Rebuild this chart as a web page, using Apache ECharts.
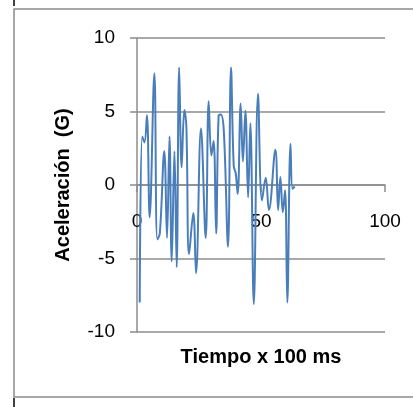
<!DOCTYPE html>
<html>
<head>
<meta charset="utf-8">
<script src="https://cdn.jsdelivr.net/npm/echarts@6/dist/echarts.min.js"></script>
<style>
html, body { margin: 0; padding: 0; background: #fff; }
#chart { width: 413px; height: 407px; }
</style>
</head>
<body>
<div id="chart"></div>
<script>
// datos (tiempo x 100 ms, aceleracion G)
var tiempo = [1.1, 2.1, 3.0, 4.0, 5.1, 7.0, 8.2, 9.2, 11.0, 12.1, 13.1, 14.0, 15.1, 16.0, 17.0, 18.0,
    19.1, 19.9, 21.0, 22.7, 23.8, 25.8, 27.7, 28.9, 30.0, 30.9, 31.9, 32.9, 33.8, 35.0, 36.7, 37.9,
    39.0, 39.8, 40.6, 41.8, 42.7, 43.7, 44.8, 45.7, 47.1, 48.8, 50.4, 51.9, 53.2, 55.8, 56.9, 57.8,
    58.8, 59.7, 60.6, 61.9, 62.7, 63.6];
var aceleracion = [-8.0, 3.3, 2.9, 4.75, -2.2, 7.6, -3.7, -3.3, 2.3, -3.6, 3.3, -5.2, 2.3, -5.6, 8.0, 1.2,
    5.1, 4.0, -4.7, -1.9, -6.0, 3.85, -3.6, 5.7, 2.0, 3.0, -3.3, 4.7, 4.8, 3.7, -4.2, 8.0,
    1.3, 0.8, -0.6, 5.55, 1.6, 5.05, -0.85, 4.2, -8.1, 6.2, -1.05, 0.5, -1.7, 2.4, -1.7, 0.55,
    -1.85, -0.36, -8.0, 2.8, -0.25, -0.1];
var xTicks = [0, 50, 100];
var yTicks = [-10, -5, 0, 5, 10];

var gris = '#8c8c8c';
var fuente = '"Liberation Sans", Arial, sans-serif';

var puntos = [];
for (var i = 0; i < tiempo.length; i++)
    puntos.push([tiempo[i], aceleracion[i]]);

// el eje x cruza en y=0, que es la mitad de la zona de trazado
var gridTop = 38, gridBottom = 75, alto = 407;
var cruce = -(alto - gridTop - gridBottom) / 2;

var option = {
    animation: false,
    backgroundColor: '#fff',
    grid: { left: 137, right: 28, top: gridTop, bottom: gridBottom, containLabel: false, outerBoundsMode: 'none' },
    xAxis: {
        type: 'value',
        min: xTicks[0],
        max: xTicks[xTicks.length - 1],
        interval: xTicks[1] - xTicks[0],
        offset: cruce,
        name: 'Tiempo x 100 ms',
        nameLocation: 'middle',
        nameGap: 162,
        nameTextStyle: { fontFamily: fuente, fontWeight: 'bold', fontSize: 20, color: '#000' },
        axisLine: { onZero: false, lineStyle: { color: gris, width: 1.5 } },
        axisTick: { show: true, inside: false, length: 7, lineStyle: { color: gris, width: 1.5 } },
        axisLabel: { margin: 27, fontFamily: fuente, fontSize: 19, color: '#000' },
        splitLine: { show: false }
    },
    yAxis: {
        type: 'value',
        min: yTicks[0],
        max: yTicks[yTicks.length - 1],
        interval: yTicks[1] - yTicks[0],
        name: 'Aceleración  (G)',
        nameLocation: 'middle',
        nameGap: 64,
        nameTextStyle: { fontFamily: fuente, fontWeight: 'bold', fontSize: 20, color: '#000' },
        axisLine: { show: true, onZero: false, lineStyle: { color: gris, width: 1.5 } },
        axisTick: { show: true, inside: false, length: 7, lineStyle: { color: gris, width: 1.5 } },
        axisLabel: { margin: 22, fontFamily: fuente, fontSize: 19, color: '#000' },
        splitLine: { show: true, lineStyle: { color: gris, width: 1.5 } }
    },
    series: [{
        type: 'line',
        data: puntos,
        smooth: 0.4,
        showSymbol: false,
        lineStyle: { color: '#4a7ebb', width: 2 },
        z: 3
    }],
    graphic: [
        // marco del grafico
        { type: 'rect', shape: { x: 14, y: 9, width: 500, height: 388 },
          style: { fill: 'none', stroke: gris, lineWidth: 1.5 }, silent: true },
        { type: 'line', shape: { x1: 14, y1: 0, x2: 14, y2: 6 },
          style: { stroke: '#000', lineWidth: 1.5 }, silent: true },
        { type: 'line', shape: { x1: 14, y1: 398, x2: 14, y2: 407 },
          style: { stroke: '#000', lineWidth: 1.5 }, silent: true }
    ]
};

var chart = echarts.init(document.getElementById('chart'), null, { renderer: 'canvas' });
chart.setOption(option);
</script>
</body>
</html>
